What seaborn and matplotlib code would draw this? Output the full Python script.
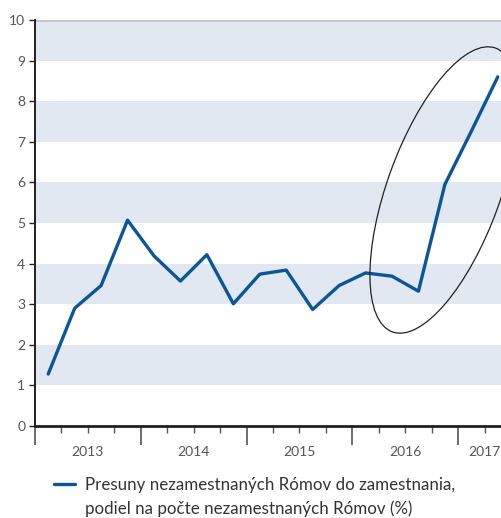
import matplotlib
matplotlib.use("Agg")
import matplotlib.pyplot as plt
from matplotlib.patches import Ellipse
from matplotlib.lines import Line2D
import seaborn as sns
import pandas as pd
import numpy as np

# Quarterly share of unemployed Roma moving into employment (%)
quarters = ["2013Q1", "2013Q2", "2013Q3", "2013Q4",
            "2014Q1", "2014Q2", "2014Q3", "2014Q4",
            "2015Q1", "2015Q2", "2015Q3", "2015Q4",
            "2016Q1", "2016Q2", "2016Q3", "2016Q4",
            "2017Q1", "2017Q2"]
values = [1.28, 2.90, 3.46, 5.07, 4.19, 3.57, 4.22, 3.01,
          3.74, 3.84, 2.87, 3.46, 3.77, 3.69, 3.32, 5.95,
          7.26, 8.60]
years = ["2013", "2014", "2015", "2016", "2017"]
yticks = [0, 1, 2, 3, 4, 5, 6, 7, 8, 9, 10]
label_line1 = "Presuny nezamestnaných Rómov do zamestnania,"
label_line2 = "podiel na počte nezamestnaných Rómov (%)"

sns.set_theme(style="white")
plt.rcParams["font.family"] = ["Lato", "DejaVu Sans"]

LINE = "#0a5699"
BAND = "#e1e8f2"
TXT = "#555555"

df = pd.DataFrame({"pos": np.arange(len(quarters)) + 0.5, "value": values})

W, H = 502, 518
fig = plt.figure(figsize=(W / 100, H / 100), dpi=100)
ax = fig.add_axes([35 / W, (H - 426) / H, 476 / W, 406 / H])

# alternating horizontal bands
for lo in range(1, 10, 2):
    ax.axhspan(lo, lo + 1, color=BAND, lw=0, zorder=0)
ax.axhline(10, color="#c4c4c4", lw=2, zorder=1)

sns.lineplot(data=df, x="pos", y="value", ax=ax, color=LINE, lw=2.4,
             label=label_line1, zorder=3)

ax.set_xlim(0, 18)
ax.set_ylim(0, 10)
ax.set_xlabel("")
ax.set_ylabel("")

for s in ["top", "right"]:
    ax.spines[s].set_visible(False)
ax.spines["left"].set_color("#231f20")
ax.spines["bottom"].set_color("#231f20")
ax.spines["left"].set_linewidth(1.4)
ax.spines["bottom"].set_linewidth(2)

ax.set_yticks(yticks)
ax.set_yticklabels([str(t) for t in yticks])
ax.tick_params(axis="y", which="major", length=4, width=1, color="#231f20",
               labelsize=10, labelcolor=TXT, pad=3, left=True)

ax.set_xticks([0, 4, 8, 12, 16])
ax.set_xticklabels([])
ax.set_xticks([q for q in range(1, 18) if q % 4 != 0], minor=True)
ax.tick_params(axis="x", which="major", length=14, width=1.2, color="#555555", bottom=True)
ax.tick_params(axis="x", which="minor", length=5, width=1, color="#555555", bottom=True)

# year labels centred on the visible part of each year
centers = [2, 6, 10, 14, 17]
for c, yr in zip(centers, years):
    ax.text(c, -0.65, yr, ha="center", va="center", fontsize=10, color=TXT,
            transform=ax.transData, clip_on=False)

# highlight of the recent surge
ell = Ellipse((4.44, (H - 190) / 100), width=3.02, height=1.13, angle=70,
              transform=fig.dpi_scale_trans, fill=False, ec="#222222", lw=0.9,
              zorder=5)
fig.add_artist(ell)

# legend: series line with its label, continuation line without a handle
handles, labels = ax.get_legend_handles_labels()
handles.append(Line2D([], [], color="none"))
labels.append(label_line2)
leg = ax.legend(handles, labels, loc="upper left",
                bbox_to_anchor=(54 / W, (H - 477) / H),
                bbox_transform=fig.transFigure, frameon=False, fontsize=12.2,
                handlelength=1.25, handletextpad=0.6, borderaxespad=0,
                borderpad=0, labelspacing=0.45)
for t in leg.get_texts():
    t.set_color("#333333")

fig.savefig("out.png", dpi=100)
